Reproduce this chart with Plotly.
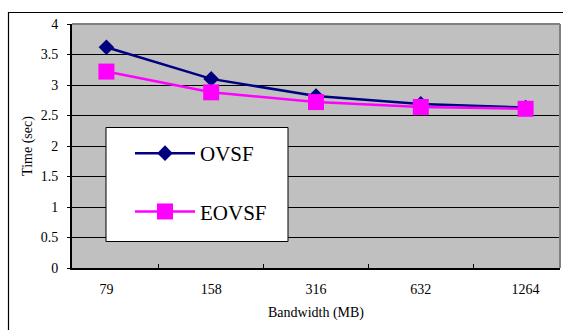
import plotly.graph_objects as go

categories = ["79", "158", "316", "632", "1264"]
ovsf = [3.62, 3.10, 2.82, 2.69, 2.63]
eovsf = [3.22, 2.88, 2.72, 2.64, 2.61]
y_ticks = [0, 0.5, 1, 1.5, 2, 2.5, 3, 3.5, 4]
y_ticktext = ["0", "0.5", "1", "1.5", "2", "2.5", "3", "3.5", "4"]

FONT = "Liberation Serif"

fig = go.Figure()
fig.add_trace(go.Scatter(
    x=categories, y=ovsf, name="OVSF", mode="lines+markers",
    line=dict(color="#000080", width=2.5),
    marker=dict(symbol="diamond", size=12, color="#000080"),
    legendgroup="a"))
fig.add_trace(go.Scatter(
    x=categories, y=eovsf, name="EOVSF", mode="lines+markers",
    line=dict(color="#FF00FF", width=2.5),
    marker=dict(symbol="square", size=16, color="#FF00FF"),
    legendgroup="b"))

W, H = 563, 330
L, R, T, B = 72, 3, 24, 62
pw = W - L - R
ph = H - T - B

def px(x):
    return (x - L) / pw

def py(y):
    return (H - B - y) / ph

shapes = [
    dict(type="rect", xref="paper", yref="paper",
         x0=px(8.5), x1=px(600), y0=py(12.5), y1=py(400),
         line=dict(color="black", width=1.2), fillcolor="rgba(0,0,0,0)", layer="below"),
    dict(type="line", xref="paper", yref="paper", x0=0, x1=1, y0=1, y1=1,
         line=dict(color="#808080", width=2)),
    dict(type="line", xref="paper", yref="paper", x0=1, x1=1, y0=0, y1=1,
         line=dict(color="#808080", width=2)),
    dict(type="rect", xref="paper", yref="paper",
         x0=px(106), x1=px(288), y0=py(127.5), y1=py(241.5),
         line=dict(color="black", width=1), fillcolor="white", layer="above"),
]

fig.update_layout(
    width=W, height=H,
    margin=dict(l=L, r=R, t=T, b=B),
    paper_bgcolor="white",
    plot_bgcolor="#C0C0C0",
    font=dict(family=FONT, color="black", size=14),
    shapes=shapes,
    showlegend=True,
    legend=dict(
        x=px(130), y=py(133), xanchor="left", yanchor="top",
        bgcolor="rgba(0,0,0,0)", borderwidth=0,
        font=dict(family=FONT, size=21),
        tracegroupgap=28, itemwidth=60,
    ),
    xaxis=dict(
        type="category", showgrid=False, showline=True, linecolor="black", linewidth=2,
        ticks="inside", tickson="boundaries", ticklen=4, tickcolor="black",
        ticklabelstandoff=7,
        title=dict(text="Bandwidth (MB)", font=dict(size=14), standoff=11),
        zeroline=False,
    ),
    yaxis=dict(
        range=[0, 4], tickvals=y_ticks, ticktext=y_ticktext,
        showgrid=True, gridcolor="black", gridwidth=1,
        showline=True, linecolor="black", linewidth=2,
        ticks="outside", ticklen=3, tickcolor="black",
        ticklabelstandoff=6,
        title=dict(text="Time (sec)", font=dict(size=14), standoff=5),
        zeroline=False,
    ),
)

fig.write_html("out.html")
